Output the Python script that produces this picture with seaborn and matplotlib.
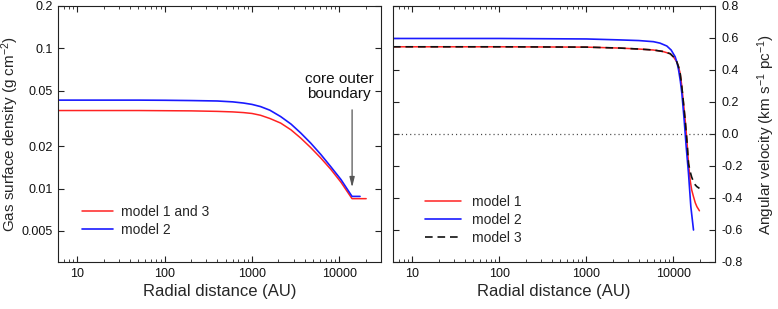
import numpy as np
import pandas as pd
import matplotlib
matplotlib.use("Agg")
import matplotlib.pyplot as plt
import matplotlib.ticker as mticker
import seaborn as sns

# ---------------- data ----------------
# Left panel: gas surface density vs radius
r_m13 = [6, 50, 100, 200, 400, 600, 800, 1000, 1253, 1600, 2128, 2800, 3614, 4700, 6140, 8000,
         10440, 13970, 20300]
sig_m13 = [0.0360, 0.0360, 0.0359, 0.0358, 0.0355, 0.0352, 0.0348, 0.0343, 0.0333, 0.0316, 0.0293,
           0.0262, 0.0229, 0.0196, 0.0165, 0.0137, 0.0111, 0.00848, 0.00848]
r_m2 = [6, 50, 100, 200, 400, 600, 800, 1000, 1253, 1600, 2128, 2800, 3614, 4700, 6140, 8000,
        10440, 13970, 17260]
sig_m2 = [0.0427, 0.0427, 0.0426, 0.0424, 0.0421, 0.0415, 0.0407, 0.0398, 0.0384, 0.0362, 0.0326,
          0.0288, 0.0249, 0.0211, 0.0175, 0.0143, 0.0116, 0.0088, 0.0088]

# Right panel: angular velocity vs radius
r_w1 = [6, 100, 1000, 2440, 4000, 5890, 7500, 9170, 10000, 10940, 11440, 11940, 12400, 12820,
        13630, 14260, 14880, 15550, 16200, 16990, 17800, 18580, 19880]
w_m1 = [0.545, 0.545, 0.543, 0.537, 0.531, 0.525, 0.516, 0.502, 0.482, 0.450, 0.420, 0.379, 0.310,
        0.233, 0.088, -0.038, -0.183, -0.288, -0.350, -0.392, -0.430, -0.454, -0.480]
r_w2 = [6, 100, 1000, 2440, 4000, 5890, 7000, 8390, 9400, 10450, 11000, 11450, 12000, 12490,
        13270, 14000, 14880, 15830, 16990]
w_m2 = [0.597, 0.597, 0.594, 0.588, 0.584, 0.577, 0.568, 0.550, 0.525, 0.483, 0.445, 0.400, 0.330,
        0.254, 0.088, -0.079, -0.246, -0.454, -0.600]
r_w3 = [6, 100, 1000, 2440, 4000, 5890, 7500, 9170, 10000, 10940, 11440, 11940, 12400, 12820,
        13630, 14260, 14880, 15550, 16200, 16990, 17800, 18580, 19880]
w_m3 = [0.545, 0.545, 0.543, 0.537, 0.531, 0.525, 0.516, 0.502, 0.482, 0.450, 0.420, 0.379, 0.310,
        0.233, 0.088, -0.038, -0.183, -0.235, -0.270, -0.298, -0.318, -0.329, -0.340]

x_ticks = [10, 100, 1000, 10000]
x_ticklabels = ["10", "100", "1000", "10000"]
sig_ticks = [0.005, 0.01, 0.02, 0.05, 0.1, 0.2]
sig_ticklabels = ["0.005", "0.01", "0.02", "0.05", "0.1", "0.2"]
w_ticks = [-0.8, -0.6, -0.4, -0.2, 0.0, 0.2, 0.4, 0.6, 0.8]
w_ticklabels = ["-0.8", "-0.6", "-0.4", "-0.2", "0.0", "0.2", "0.4", "0.6", "0.8"]

# ---------------- style ----------------
sns.set_style("ticks")
plt.rcParams['font.family'] = ['Liberation Sans', 'DejaVu Sans']
plt.rcParams['mathtext.default'] = 'regular'
plt.rcParams['lines.scale_dashes'] = False
plt.rcParams['axes.edgecolor'] = '#222222'
plt.rcParams['axes.linewidth'] = 0.8

fig = plt.figure(figsize=(7.78, 3.09), dpi=100)
ax1 = fig.add_axes([58/778, 1-262/309, (381-58)/778, (262-6)/309])
ax2 = fig.add_axes([393/778, 1-262/309, (715-393)/778, (262-6)/309])

RED = '#ff2222'
BLUE = '#1a1aff'

# ---------------- left panel ----------------
df1 = pd.DataFrame({'r': r_m13, 's': sig_m13})
df2 = pd.DataFrame({'r': r_m2, 's': sig_m2})
sns.lineplot(data=df1, x='r', y='s', ax=ax1, color=RED, lw=1.1, label='model 1 and 3', sort=False)
sns.lineplot(data=df2, x='r', y='s', ax=ax1, color=BLUE, lw=1.2, label='model 2', sort=False)
ax1.set_xscale('log')
ax1.set_yscale('log')
ax1.set_xlim(6, 30000)
ax1.set_ylim(0.003, 0.2)
ax1.yaxis.set_major_locator(mticker.FixedLocator(sig_ticks))
ax1.yaxis.set_major_formatter(mticker.FixedFormatter(sig_ticklabels))
ax1.yaxis.set_minor_locator(mticker.NullLocator())
ax1.set_ylabel('Gas surface density (g cm$^{-2}$)', fontsize=11)
ax1.yaxis.set_label_coords(-0.116, 0.5)

ax1.annotate('', xy=(14000, 0.0102), xytext=(14000, 0.0364),
             arrowprops=dict(arrowstyle='-|>,head_width=0.15,head_length=0.6',
                             color='#555555', lw=0.9, shrinkA=0, shrinkB=0))
ax1.text(10000, 0.0531, 'core outer\nboundary', ha='center', va='center',
         fontsize=11, linespacing=1.1, color='#111111')

ax1.legend(loc='center left', bbox_to_anchor=(82/778, 1-221/309),
           bbox_transform=fig.transFigure, frameon=False, fontsize=10,
           handlelength=2.2, handletextpad=0.6, labelspacing=0.3,
           borderpad=0, borderaxespad=0)

# ---------------- right panel ----------------
ax2.axhline(0, color='#444444', lw=0.9, ls=(0, (0.8, 2.2)))
dw1 = pd.DataFrame({'r': r_w1, 'w': w_m1})
dw2 = pd.DataFrame({'r': r_w2, 'w': w_m2})
dw3 = pd.DataFrame({'r': r_w3, 'w': w_m3})
sns.lineplot(data=dw1, x='r', y='w', ax=ax2, color=RED, lw=1.1, label='model 1', sort=False)
sns.lineplot(data=dw2, x='r', y='w', ax=ax2, color=BLUE, lw=1.2, label='model 2', sort=False)
sns.lineplot(data=dw3, x='r', y='w', ax=ax2, color='#111111', lw=1.2, label='model 3', sort=False)
ax2.lines[-1].set_dashes((5.5, 3.5))
ax2.set_xscale('log')
ax2.set_xlim(6, 30000)
ax2.set_ylim(-0.8, 0.8)
ax2.yaxis.set_major_locator(mticker.FixedLocator(w_ticks))
ax2.yaxis.set_major_formatter(mticker.FixedFormatter(w_ticklabels))
ax2.yaxis.tick_right()
ax2.yaxis.set_label_position('right')
ax2.set_ylabel('Angular velocity (km s$^{-1}$ pc$^{-1}$)', fontsize=11)
ax2.yaxis.set_label_coords(1.126, 0.5)

leg2 = ax2.legend(loc='center left', bbox_to_anchor=(425/778, 1-220/309),
                  bbox_transform=fig.transFigure, frameon=False, fontsize=10,
                  handlelength=2.6, handletextpad=0.8, labelspacing=0.3,
                  borderpad=0, borderaxespad=0)
leg2.get_lines()[2].set_dashes((5.5, 3.5))

for ax in (ax1, ax2):
    ax.xaxis.set_major_locator(mticker.FixedLocator(x_ticks))
    ax.xaxis.set_major_formatter(mticker.FixedFormatter(x_ticklabels))
    ax.xaxis.set_minor_locator(mticker.LogLocator(base=10, subs=np.arange(2, 10)))
    ax.xaxis.set_minor_formatter(mticker.NullFormatter())
    ax.set_xlabel('Radial distance (AU)', fontsize=12, labelpad=3)
    ax.tick_params(which='both', direction='in', top=True, bottom=True, left=True, right=True,
                   colors='#222222', labelcolor='#111111')
    ax.tick_params(which='major', length=4, width=0.8, labelsize=9, pad=4)
    ax.tick_params(which='minor', length=2, width=0.6)
    for s in ax.spines.values():
        s.set_visible(True)

ax2.tick_params(axis='y', which='both', labelleft=False, labelright=True, pad=5)

fig.savefig('out.png', dpi=100)
